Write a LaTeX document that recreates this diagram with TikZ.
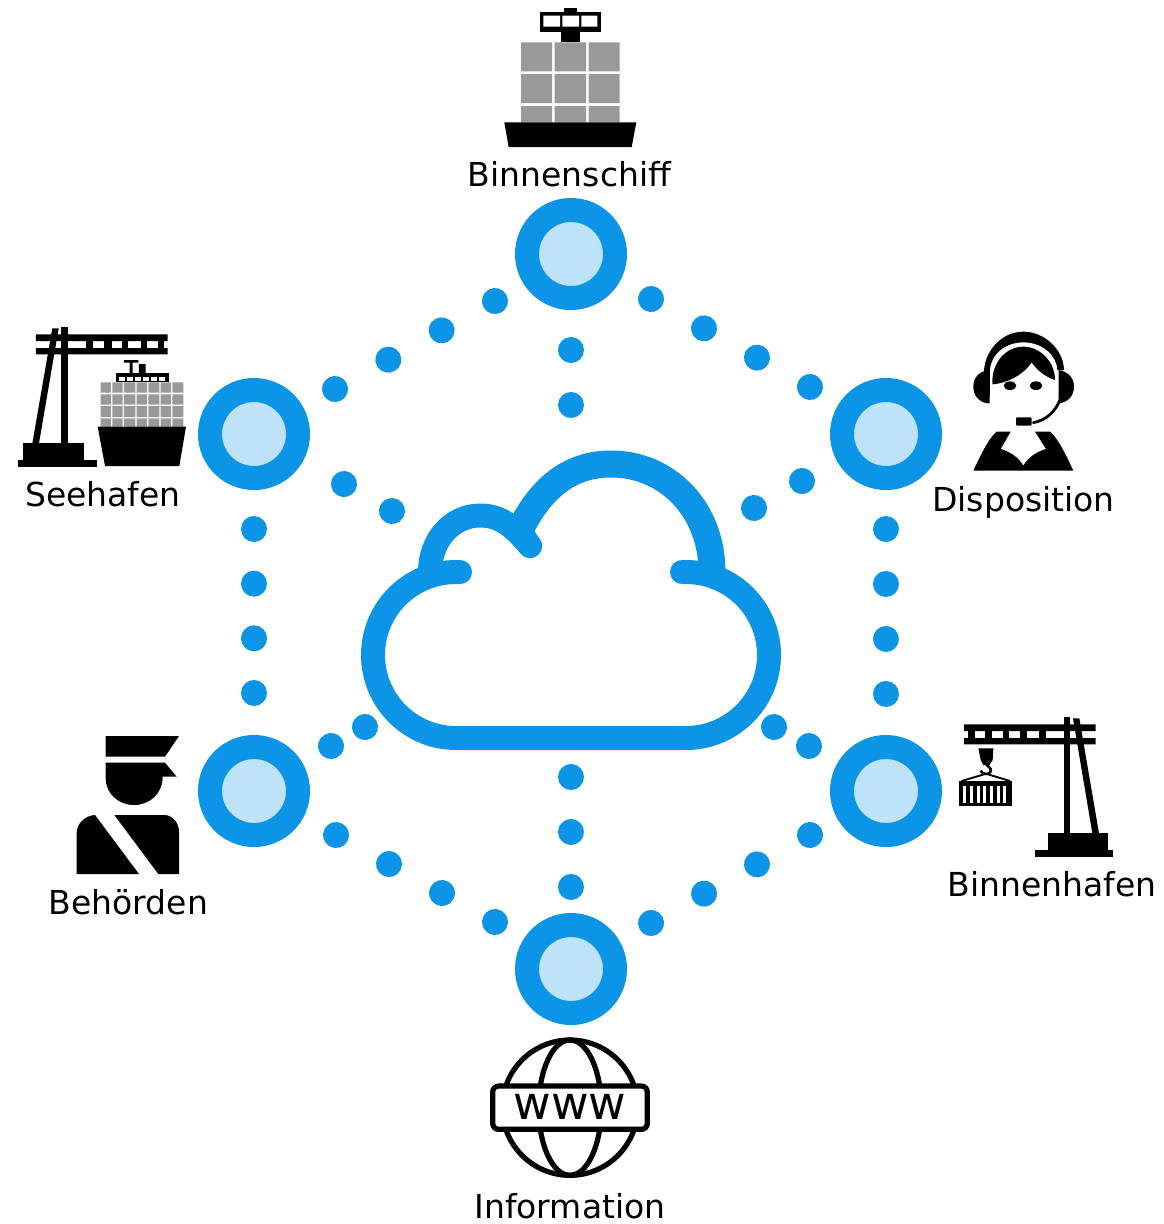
\documentclass[tikz,border=0pt]{standalone}
\usepackage{fontspec}
\setmainfont{DejaVu Sans}
\definecolor{ringblue}{HTML}{0C95E6}
\definecolor{ringlight}{HTML}{BEE2F8}
\definecolor{boxgray}{HTML}{999999}
\tikzset{
  hub/.style={circle,draw=ringblue,fill=ringlight,line width=24pt,minimum size=88pt,inner sep=0pt},
  dotline/.style={draw=ringblue,line width=26pt,line cap=round},
  cloudline/.style={draw=ringblue,line width=24pt,line cap=round,line join=round},
  lbl/.style={anchor=base,inner sep=0pt,font=\fontsize{33}{36}\selectfont,text=black},
  zoomed/.style={x=0.33333pt,y=-0.33333pt},
}
\newcommand{\dotsbetween}[3]{\draw[dotline,dash pattern=on 0.01pt off #3pt] (#1) -- (#2);}
\begin{document}
\begin{tikzpicture}[x=1pt,y=-1pt]
\useasboundingbox (0,0) rectangle (1163,1224);
\fill[white] (0,0) rectangle (1163,1224);

% hubs
\node[hub] (top) at (571,254) {};
\node[hub] (dispo) at (886,434) {};
\node[hub] (hafen) at (886,791) {};
\node[hub] (info) at (571,969) {};
\node[hub] (behoerde) at (254,791) {};
\node[hub] (see) at (254,434) {};

% dot connector ends
\coordinate (tl1) at (335,389); \coordinate (tl2) at (495,301);
\coordinate (tr1) at (651,299); \coordinate (tr2) at (810,387);
\coordinate (tc1) at (571,350); \coordinate (tc2) at (571,405);
\coordinate (lv1) at (254,529); \coordinate (lv2) at (254,693);
\coordinate (rv1) at (886,529); \coordinate (rv2) at (886,694);
\coordinate (sc1) at (344,484); \coordinate (sc2) at (392,511);
\coordinate (dc1) at (802,481); \coordinate (dc2) at (754,508);
\coordinate (bc1) at (331,746); \coordinate (bc2) at (365,727);
\coordinate (hc1) at (809,746); \coordinate (hc2) at (774,727);
\coordinate (ic1) at (571,777); \coordinate (ic2) at (571,887);
\coordinate (bl1) at (336,835); \coordinate (bl2) at (495,922);
\coordinate (br1) at (810,835); \coordinate (br2) at (651,923);
\dotsbetween{tl1}{tl2}{60.84}
\dotsbetween{tr1}{tr2}{60.55}
\dotsbetween{tc1}{tc2}{54.97}
\dotsbetween{lv1}{lv2}{54.65}
\dotsbetween{rv1}{rv2}{54.97}
\dotsbetween{sc1}{sc2}{55.04}
\dotsbetween{dc1}{dc2}{55.04}
\dotsbetween{bc1}{bc2}{38.93}
\dotsbetween{hc1}{hc2}{39.79}
\dotsbetween{ic1}{ic2}{54.97}
\dotsbetween{bl1}{bl2}{60.40}
\dotsbetween{br1}{br2}{60.55}

% cloud
\draw[cloudline] (682,572) -- (686,572)
  .. controls (731.8,572) and (769,609.2) .. (769,655)
  .. controls (769,700.8) and (731.8,738) .. (686,738)
  -- (456,738)
  .. controls (410.2,738) and (373,700.8) .. (373,655)
  .. controls (373,609.2) and (410.2,572) .. (456,572) -- (460,572);
\draw[cloudline] (430,572) .. controls (430,540) and (452,515.5) .. (480,515.5) .. controls (500,515.5) and (512,525) .. (530,546);
\draw[cloudline,line width=27pt,line cap=butt] (712,572) .. controls (712,510) and (668,464) .. (611,464) .. controls (575,464) and (545,482) .. (522,526);
\draw[cloudline] (530,546) -- (519,530);

% Binnenschiff icon
\begin{scope}[shift={(470,0)},zoomed]
\fill[black] (210,35) rectangle (392,97);
\fill[black] (282,25) rectangle (320,35);
\fill[black] (272,97) rectangle (330,127);
\fill[white] (220,47) rectangle (270,80) (277,47) rectangle (327,80) (334,47) rectangle (382,80);
\foreach \a/\b in {153/246,254/348,356/449}{
  \fill[boxgray] (\a,127) rectangle (\b,214) (\a,222) rectangle (\b,309) (\a,318) rectangle (\b,367);
}
\fill[black] (103,367) -- (499,367) -- (485,441) -- (116,441) -- cycle;
\end{scope}

% Seehafen icon
\begin{scope}[shift={(10,320)},zoomed]
\fill[black] (78,43) rectangle (473,63) (78,84) rectangle (473,103);
\foreach \a/\b in {228/248,282/305,335/355,392/412,445/462}{\fill[black] (\a,62) rectangle (\b,85);}
\fill[black] (153,22) rectangle (173,370);
\fill[black] (127,25) -- (146,25) -- (87,370) -- (67,370) -- cycle;
\fill[black] (40,370) rectangle (222,420);
\fill[black] (24,420) rectangle (260,440);
\foreach \a/\b in {272/303,307/338,342/376,380/411,415/448,452/483,487/520}{
  \fill[boxgray] (\a,187) rectangle (\b,218) (\a,223) rectangle (\b,254) (\a,258) rectangle (\b,291) (\a,295) rectangle (\b,320);
}
\fill[black] (263,320) -- (528,320) -- (508,438) -- (285,438) -- cycle;
\fill[black] (317,160) rectangle (476,187);
\foreach \a/\b in {328/345,352/368,375/392,398/416,422/440,446/464}{\fill[white] (\a,172) rectangle (\b,183);}
\fill[black] (342,120) rectangle (385,128) (359,128) rectangle (368,160) (387,132) rectangle (407,160);
\end{scope}

% Binnenhafen icon
\begin{scope}[shift={(950,710)},zoomed]
\fill[black] (42,43) rectangle (437,63) (42,84) rectangle (437,103);
\foreach \a/\b in {53/74,105/126,158/178,210/230,266/287}{\fill[black] (\a,62) rectangle (\b,85);}
\fill[black] (341,22) rectangle (361,370);
\fill[black] (369,25) -- (388,25) -- (447,370) -- (427,370) -- cycle;
\fill[black] (293,370) rectangle (475,420);
\fill[black] (255,420) rectangle (490,440);
\fill[black] (85,115) -- (130,115) -- (128,150) -- (118,165) -- (100,165) -- (92,150) -- cycle;
\draw[black,line width=2.6pt] (108,160) .. controls (108,168) and (126,172) .. (122,184) .. controls (118,196) and (96,194) .. (92,182);
\draw[black,line width=1.9pt] (102,193) -- (35,213) (114,193) -- (180,213);
\fill[black] (28,213) rectangle (185,288);
\foreach \a in {40,60,80,100,120,140,160}{\fill[white] (\a,228) rectangle (\a+9,280);}
\end{scope}

% Disposition icon
\begin{scope}[shift={(960,325)},zoomed]
\fill[black] (72,135) .. controls (78,70) and (130,20) .. (190,20) .. controls (250,20) and (310,70) .. (312,135) -- (292,135) .. controls (290,88) and (245,52) .. (190,52) .. controls (135,52) and (92,88) .. (90,135) -- (89,235) -- (85,235) -- cycle;
\fill[black] (85,135) .. controls (55,140) and (40,160) .. (40,185) .. controls (40,210) and (55,232) .. (85,235) -- cycle;
\fill[black] (296,135) .. controls (326,140) and (342,160) .. (342,185) .. controls (342,210) and (326,232) .. (296,235) -- cycle;
\fill[black] (97,178) .. controls (94,110) and (140,65) .. (190,65) .. controls (240,65) and (285,110) .. (285,165) .. controls (255,155) and (230,135) .. (215,112) .. controls (190,150) and (140,175) .. (97,178) -- cycle;
\fill[black] (150,182) ellipse[x radius=19,y radius=13];
\fill[black] (228,182) ellipse[x radius=19,y radius=13];
\fill[black,rounded corners=1pt] (168,277) rectangle (215,302);
\draw[black,line width=2.8pt,line cap=round] (220,293) .. controls (260,285) and (285,260) .. (300,225);
\fill[black] (40,437) .. controls (60,395) and (85,340) .. (110,320) -- (152,320) -- (122,372) .. controls (145,378) and (175,395) .. (190,422) .. controls (205,395) and (235,378) .. (258,372) -- (225,320) -- (270,320) .. controls (295,340) and (320,395) .. (340,437) -- cycle;
\end{scope}

% Behoerden icon
\begin{scope}[shift={(65,725)},zoomed]
\fill[black] (122,33) -- (342,33) -- (300,95) -- (122,95) -- cycle;
\fill[black] (122,113) -- (300,113) -- (335,155) -- (293,155) .. controls (293,205) and (255,240) .. (207,240) .. controls (160,240) and (122,205) .. (122,160) -- cycle;
\fill[black] (35,447) -- (35,325) .. controls (35,295) and (60,272) .. (90,270) -- (222,447) -- cycle;
\fill[black] (148,270) -- (300,270) .. controls (325,272) and (342,295) .. (342,320) -- (342,447) -- (280,447) -- cycle;
\end{scope}

% Information icon
\begin{scope}[shift={(480,1030)},zoomed]
\draw[black,line width=5.2pt] (270,233) circle[radius=203];
\draw[black,line width=5.2pt] (270,233) ellipse[x radius=94,y radius=203];
\draw[black,line width=5.2pt,fill=white,rounded corners=6pt] (38,168) rectangle (502,298);
\node[inner sep=0pt,font=\fontsize{46}{46}\selectfont] (www) at (270,232) {www};
\end{scope}

% labels
\node[lbl] (l1) at (569.5,186) {Binnenschiff};
\node[lbl] (l2) at (103,506) {Seehafen};
\node[lbl] (l3) at (1023.5,511) {Disposition};
\node[lbl] (l4) at (1052,896) {Binnenhafen};
\node[lbl] (l5) at (128.5,914) {Behörden};
\node[lbl] (l6) at (570,1218) {Information};
\end{tikzpicture}
\end{document}
